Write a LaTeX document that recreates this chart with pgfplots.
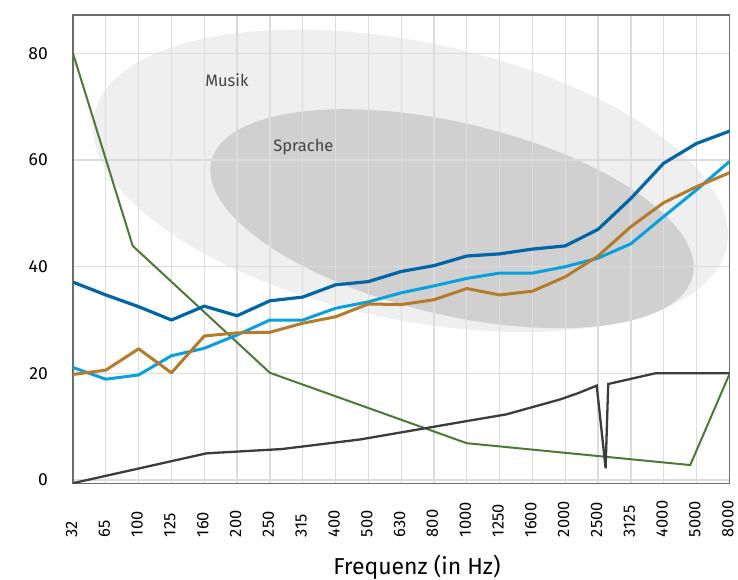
\documentclass[border=0pt]{standalone}
\usepackage{pgfplots}
\pgfplotsset{compat=1.18}
\usepackage{fontspec}
\setmainfont{Fira Sans}
\definecolor{dblue}{HTML}{0066A6}
\definecolor{lblue}{HTML}{0AA0DE}
\definecolor{ochre}{HTML}{B67A2B}
\definecolor{dgreen}{HTML}{4B7A33}
\definecolor{dgray}{HTML}{3C3C3C}
\definecolor{musik}{HTML}{EFEFEF}
\definecolor{sprache}{HTML}{D0D0D0}
\definecolor{gridc}{HTML}{DCDCDC}
\definecolor{framec}{HTML}{6B6B6B}
\definecolor{labelc}{HTML}{444444}
\begin{document}
\begin{tikzpicture}
\begin{axis}[
  set layers,
  at={(73pt,96.7pt)}, anchor=south west,
  scale only axis, width=656.3pt, height=468.3pt,
  xmin=0, xmax=20, ymin=-0.62, ymax=87.2,
  xtick={0,...,20},
  xticklabels={32,65,100,125,160,200,250,315,400,500,630,800,1000,1250,1600,2000,2500,3125,4000,5000,8000},
  ytick={0,20,40,60,80},
  /pgf/number format/assume math mode=true,
  grid=major,
  major grid style={gridc, line width=1.3pt},
  axis line style={framec, line width=1.5pt},
  major tick length=0pt,
  tick style={draw=none},
  yticklabel style={font=\fontsize{17.5}{20}\selectfont, text=black, anchor=east, inner sep=0pt, xshift=-25pt},
  xticklabel style={font=\fontsize{16.5}{19}\selectfont, text=black, yshift=-54pt, xshift=-1.5pt, rotate=90, anchor=west, inner sep=0pt},
  xlabel={Frequenz (in Hz)},
  xlabel style={font=\fontsize{23}{26}\selectfont, anchor=base, at={(axis description cs:0.524,-0.1937)}},
]
\begin{pgfonlayer}{axis background}
\fill[musik, rotate around={-11.8:(axis cs:10.28,56.1)}] (axis cs:10.28,56.1) ellipse [x radius=323.1pt, y radius=138.9pt];
\fill[sprache, rotate around={-13.4:(axis cs:11.55,49.0)}] (axis cs:11.55,49.0) ellipse [x radius=247.4pt, y radius=95.9pt];
\end{pgfonlayer}
\node[text=labelc, font=\fontsize{16.5}{19}\selectfont] at (axis cs:4.69,75.0) {Musik};
\node[text=labelc, font=\fontsize{16.5}{19}\selectfont] at (axis cs:7.02,62.5) {Sprache};

\addplot[dgreen, line width=2pt, mark=none] coordinates {
(0,80) (1.82,43.9) (6,20.1) (12,6.9) (18.81,2.8) (20,19.8)};

\addplot[dgray, line width=2.3pt, mark=none] coordinates {
(0,-0.6) (4.07,5.0) (6.36,5.8) (8.75,7.6) (12.05,11.1) (13.2,12.3) (14.84,15.1) (15.4,16.3) (15.96,17.7) (16.23,2.2) (16.31,18.0) (17.74,20.0) (20,20.0)};

\addplot[dblue, line width=3.2pt, mark=none, line join=round] coordinates {
(0,37.1) (1,34.7) (2,32.5) (3,30.0) (4,32.6) (5,30.8) (6,33.6) (7,34.3) (8,36.6) (9,37.2) (10,39.1) (11,40.2) (12,42.0) (13,42.4) (14,43.3) (15,43.9) (16,47.0) (17,52.8) (18,59.4) (19,63.1) (20,65.4)};

\addplot[lblue, line width=3pt, mark=none, line join=round] coordinates {
(0,21.1) (1,18.9) (2,19.7) (3,23.3) (4,24.7) (5,27.2) (6,30.0) (7,30.0) (8,32.2) (9,33.4) (10,35.1) (11,36.4) (12,37.8) (13,38.8) (14,38.8) (15,40.0) (16,41.6) (17,44.3) (18,49.4) (19,54.4) (20,59.7)};

\addplot[ochre, line width=3pt, mark=none, line join=round] coordinates {
(0,19.8) (1,20.6) (2,24.6) (3,20.1) (4,27.0) (5,27.6) (6,27.7) (7,29.4) (8,30.6) (9,33.0) (10,32.9) (11,33.8) (12,35.9) (13,34.7) (14,35.4) (15,38.1) (16,42.0) (17,47.5) (18,52.0) (19,55.0) (20,57.6)};
\end{axis}
\pgfresetboundingbox
\path[use as bounding box] (0,0) rectangle (738pt,580pt);
\end{tikzpicture}
\end{document}
